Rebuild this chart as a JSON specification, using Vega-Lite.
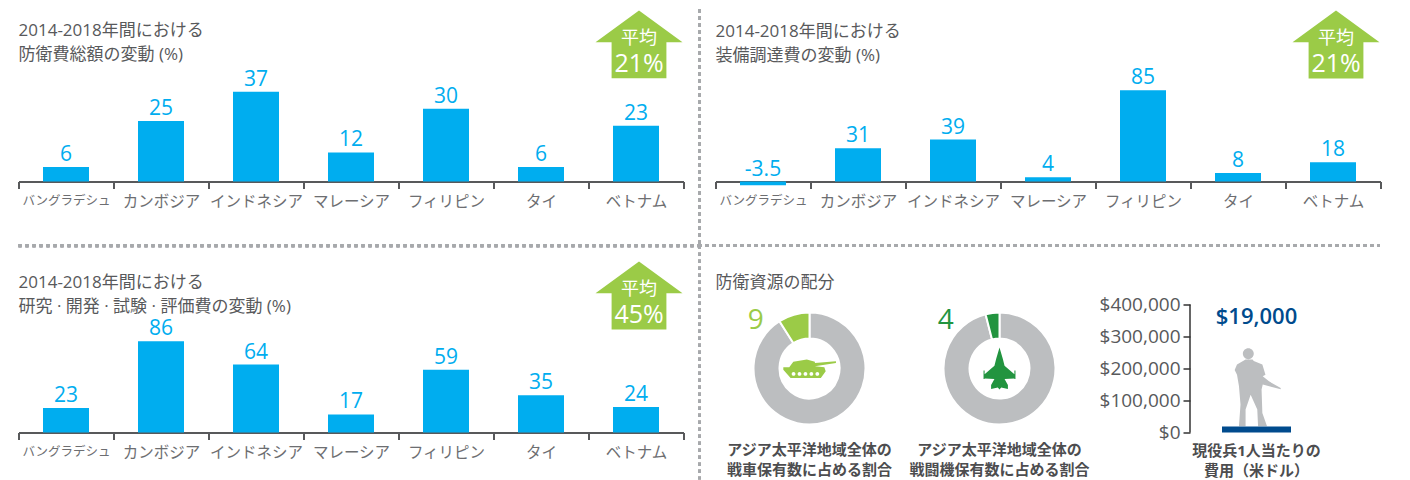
{
"$schema":"https://vega.github.io/schema/vega-lite/v6.json",
"background":"white",
"padding":{"left":16.5,"top":7.5,"right":0,"bottom":0},
"bounds":"flush",
"spacing":251,
"config":{
"font":"Open Sans, Noto Sans CJK JP",
"view":{"stroke":null},
"title":{"anchor":"start","align":"left","fontSize":17,"fontWeight":"normal","color":"#58595b","lineHeight":24,"frame":"group"},
"axisX":{"title":null,"grid":false,"labelAngle":0,"labelColor":"#6d6e71","labelFontSize":15.5,"labelPadding":6,"labelLimit":200,"domainColor":"#58595b","domainWidth":2,"tickColor":"#58595b","tickWidth":2,"tickSize":7,"bandPosition":0,"tickBand":"extent"}
},
"vconcat":[
{"bounds":"flush","spacing":32,"hconcat":[
{"width":665,"height":172,
"title":{"text":["2014-2018年間における","防衛費総額の変動 (%)"],"dy":59.5},
"data":{"values":[{"c":"バングラデシュ","v":6},{"c":"カンボジア","v":25},{"c":"インドネシア","v":37},{"c":"マレーシア","v":12},{"c":"フィリピン","v":30},{"c":"タイ","v":6},{"c":"ベトナム","v":23}]},
"layer":[
{"mark":{"type":"bar","width":46,"color":"#00adef"},"encoding":{"x":{"field":"c","type":"nominal","sort":null,"scale":{"paddingInner":0,"paddingOuter":0},"axis":{"labelFontSize":{"condition":{"test":"datum.label=='バングラデシュ'","value":12.5},"value":15.5}}},"y":{"field":"v","type":"quantitative","stack":null,"scale":{"domain":[0,71],"nice":false},"axis":null}}},
{"mark":{"type":"text","baseline":"bottom","dy":-2,"fontSize":21,"color":"#00adef"},"transform":[{"calculate":"max(datum.v,0)","as":"top"}],"encoding":{"x":{"field":"c","type":"nominal","sort":null},"y":{"field":"top","type":"quantitative"},"text":{"field":"v","type":"nominal"}}},
{"data":{"values":[{"avg":"21%","label":"平均"}]},"layer":[
{"mark":{"type":"point","filled":true,"opacity":1,"color":"#9bcb47","size":7569,"xOffset":3,"shape":"M0,-0.78L1,-0.05L0.63,-0.05L0.63,0.78L-0.63,0.78L-0.63,-0.05L-1,-0.05Z"},"encoding":{"x":{"datum":"ベトナム"},"y":{"datum":56.6}}},
{"mark":{"type":"text","fontSize":18,"color":"white","xOffset":3,"dy":-5.5},"encoding":{"x":{"datum":"ベトナム"},"y":{"datum":56.6},"text":{"field":"label"}}},
{"mark":{"type":"text","fontSize":25,"color":"white","xOffset":3,"dy":19.5},"encoding":{"x":{"datum":"ベトナム"},"y":{"datum":56.6},"text":{"field":"avg"}}}
]},
{"mark":{"type":"rule","stroke":"#a7a9ac","strokeWidth":3,"strokeDash":[3,4],"x2Offset":63},"encoding":{"x":{"datum":"バングラデシュ","bandPosition":0},"x2":{"datum":"ベトナム"},"y":{"datum":-26.5}}},
{"mark":{"type":"rule","stroke":"#a7a9ac","strokeWidth":3,"strokeDash":[3,4],"xOffset":16},"encoding":{"x":{"datum":"ベトナム","bandPosition":1},"y":{"datum":71},"y2":{"datum":-26.5}}}
]},
{"width":665,"height":172,
"title":{"text":["2014-2018年間における","装備調達費の変動 (%)"],"dy":59.5},
"data":{"values":[{"c":"バングラデシュ","v":-3.5},{"c":"カンボジア","v":31},{"c":"インドネシア","v":39},{"c":"マレーシア","v":4},{"c":"フィリピン","v":85},{"c":"タイ","v":8},{"c":"ベトナム","v":18}]},
"layer":[
{"mark":{"type":"bar","width":46,"color":"#00adef"},"encoding":{"x":{"field":"c","type":"nominal","sort":null,"scale":{"paddingInner":0,"paddingOuter":0},"axis":{"labelFontSize":{"condition":{"test":"datum.label=='バングラデシュ'","value":12.5},"value":15.5}}},"y":{"field":"v","type":"quantitative","stack":null,"scale":{"domain":[0,160],"nice":false},"axis":null}}},
{"mark":{"type":"text","baseline":"bottom","dy":-2,"fontSize":21,"color":"#00adef"},"transform":[{"calculate":"max(datum.v,0)","as":"top"}],"encoding":{"x":{"field":"c","type":"nominal","sort":null},"y":{"field":"top","type":"quantitative"},"text":{"field":"v","type":"nominal"}}},
{"data":{"values":[{"avg":"21%","label":"平均"}]},"layer":[
{"mark":{"type":"point","filled":true,"opacity":1,"color":"#9bcb47","size":7569,"xOffset":3,"shape":"M0,-0.78L1,-0.05L0.63,-0.05L0.63,0.78L-0.63,0.78L-0.63,-0.05L-1,-0.05Z"},"encoding":{"x":{"datum":"ベトナム"},"y":{"datum":127.4}}},
{"mark":{"type":"text","fontSize":18,"color":"white","xOffset":3,"dy":-5.5},"encoding":{"x":{"datum":"ベトナム"},"y":{"datum":127.4},"text":{"field":"label"}}},
{"mark":{"type":"text","fontSize":25,"color":"white","xOffset":3,"dy":19.5},"encoding":{"x":{"datum":"ベトナム"},"y":{"datum":127.4},"text":{"field":"avg"}}}
]},
{"mark":{"type":"rule","stroke":"#a7a9ac","strokeWidth":3,"strokeDash":[3,4],"xOffset":-17,"x2Offset":47},"encoding":{"y":{"datum":-59.5},"x":{"datum":"バングラデシュ","bandPosition":0},"x2":{"datum":"ベトナム"}}}
]}
]},
{"bounds":"flush","spacing":32,"hconcat":[
{"width":665,"height":172,
"title":{"text":["2014-2018年間における","研究 · 開発 · 試験 · 評価費の変動 (%)"],"dy":75.5},
"data":{"values":[{"c":"バングラデシュ","v":23},{"c":"カンボジア","v":86},{"c":"インドネシア","v":64},{"c":"マレーシア","v":17},{"c":"フィリピン","v":59},{"c":"タイ","v":35},{"c":"ベトナム","v":24}]},
"layer":[
{"mark":{"type":"bar","width":46,"color":"#00adef"},"encoding":{"x":{"field":"c","type":"nominal","sort":null,"scale":{"paddingInner":0,"paddingOuter":0},"axis":{"labelFontSize":{"condition":{"test":"datum.label=='バングラデシュ'","value":12.5},"value":15.5}}},"y":{"field":"v","type":"quantitative","stack":null,"scale":{"domain":[0,162],"nice":false},"axis":null}}},
{"mark":{"type":"text","baseline":"bottom","dy":-2,"fontSize":21,"color":"#00adef"},"encoding":{"x":{"field":"c","type":"nominal","sort":null},"y":{"field":"v","type":"quantitative"},"text":{"field":"v","type":"nominal"}}},
{"data":{"values":[{"avg":"45%","label":"平均"}]},"layer":[
{"mark":{"type":"point","filled":true,"opacity":1,"color":"#9bcb47","size":7569,"xOffset":3,"shape":"M0,-0.78L1,-0.05L0.63,-0.05L0.63,0.78L-0.63,0.78L-0.63,-0.05L-1,-0.05Z"},"encoding":{"x":{"datum":"ベトナム"},"y":{"datum":129}}},
{"mark":{"type":"text","fontSize":18,"color":"white","xOffset":3,"dy":-5.5},"encoding":{"x":{"datum":"ベトナム"},"y":{"datum":129},"text":{"field":"label"}}},
{"mark":{"type":"text","fontSize":25,"color":"white","xOffset":3,"dy":19.5},"encoding":{"x":{"datum":"ベトナム"},"y":{"datum":129},"text":{"field":"avg"}}}
]},
{"mark":{"type":"rule","stroke":"#a7a9ac","strokeWidth":3,"strokeDash":[3,4],"xOffset":16},"encoding":{"x":{"datum":"ベトナム","bandPosition":1},"y":{"datum":176},"y2":{"datum":-44}}}
]},
{"bounds":"flush","spacing":474.5,"hconcat":[
{"bounds":"flush","spacing":2,"hconcat":[
{"width":188,"height":216,
"title":{"text":"防衛資源の配分","dy":35.5},
"data":{"values":[{"part":"その他","share":91,"seq":1},{"part":"戦車","share":9,"seq":2}]},
"layer":[
{"mark":{"type":"arc","innerRadius":30,"outerRadius":56,"stroke":"white","strokeWidth":2},"encoding":{"theta":{"field":"share","type":"quantitative","stack":true},"order":{"field":"seq"},"color":{"field":"part","type":"nominal","legend":null,"scale":{"domain":["その他","戦車","戦闘機"],"range":["#bcbec0","#9bcb47","#22943f"]}}}},
{"transform":[{"filter":"datum.seq==2"}],"mark":{"type":"text","fontSize":28,"color":"#9bcb47","theta":5.44,"radius":72},"encoding":{"text":{"field":"share","type":"quantitative"}}},
{"transform":[{"filter":"datum.seq==2"}],"mark":{"type":"point","filled":true,"opacity":1,"color":"#9bcb47","size":2916,"shape":"M-0.75,-0.05L-0.6,-0.25L-0.1,-0.33L0.2,-0.25L0.2,-0.2L0.98,-0.27L0.98,-0.2L0.2,-0.08L0.55,-0.05L0.6,0.1L0.42,0.35L-0.7,0.35L-0.97,0.05L-0.97,-0.05ZM-0.66,0.2a0.07,0.07 0 1 0 0.14,0a0.07,0.07 0 1 0 -0.14,0ZM-0.44,0.2a0.07,0.07 0 1 0 0.14,0a0.07,0.07 0 1 0 -0.14,0ZM-0.22,0.2a0.07,0.07 0 1 0 0.14,0a0.07,0.07 0 1 0 -0.14,0ZM0,0.2a0.07,0.07 0 1 0 0.14,0a0.07,0.07 0 1 0 -0.14,0ZM0.22,0.2a0.07,0.07 0 1 0 0.14,0a0.07,0.07 0 1 0 -0.14,0Z"},"encoding":{}},
{"data":{"values":[{"note":["アジア太平洋地域全体の","戦車保有数に占める割合"]}]},"mark":{"type":"text","fontSize":15,"fontWeight":"bold","color":"#4d4d4f","baseline":"middle","dy":81.5,"lineHeight":20},"encoding":{"text":{"field":"note"}}}
]},
{"width":188,"height":216,
"data":{"values":[{"part":"その他","share":96,"seq":1},{"part":"戦闘機","share":4,"seq":2}]},
"layer":[
{"mark":{"type":"arc","innerRadius":30,"outerRadius":56,"stroke":"white","strokeWidth":2},"encoding":{"theta":{"field":"share","type":"quantitative","stack":true},"order":{"field":"seq"},"color":{"field":"part","type":"nominal","legend":null,"scale":{"domain":["その他","戦車","戦闘機"],"range":["#bcbec0","#9bcb47","#22943f"]}}}},
{"transform":[{"filter":"datum.seq==2"}],"mark":{"type":"text","fontSize":28,"color":"#22943f","theta":5.44,"radius":72},"encoding":{"text":{"field":"share","type":"quantitative"}}},
{"transform":[{"filter":"datum.seq==2"}],"mark":{"type":"point","filled":true,"opacity":1,"color":"#22943f","size":1764,"shape":"M0,-1L0.16,-0.45L0.24,-0.13L0.71,0.27L0.71,0.1L0.76,0.1L0.76,0.5L0.71,0.5L0.71,0.48L0.24,0.5L0.4,0.79L0.4,0.98L0.08,0.9L0,1L-0.08,0.9L-0.4,0.98L-0.4,0.79L-0.24,0.5L-0.71,0.48L-0.71,0.5L-0.76,0.5L-0.76,0.1L-0.71,0.1L-0.71,0.27L-0.24,-0.13L-0.16,-0.45Z"},"encoding":{}},
{"data":{"values":[{"note":["アジア太平洋地域全体の","戦闘機保有数に占める割合"]}]},"mark":{"type":"text","fontSize":15,"fontWeight":"bold","color":"#4d4d4f","baseline":"middle","dy":81.5,"lineHeight":20},"encoding":{"text":{"field":"note"}}}
]}
]},
{"width":133,"height":172,
"title":{"text":["現役兵1人当たりの","費用（米ドル）"],"orient":"bottom","anchor":"middle","align":"center","fontSize":15,"fontWeight":"bold","color":"#4d4d4f","lineHeight":20,"offset":1.5},
"data":{"values":[{"item":"現役兵","cost":19000}]},
"layer":[
{"mark":{"type":"point","filled":true,"opacity":1,"color":"#bcbec0","size":6084,"shape":"M-0.28,-0.71L-0.5,-0.58L-0.56,-0.44L-0.5,-0.32L-0.45,-0.03L-0.41,0.44L-0.45,1L-0.28,1L-0.28,0.57L-0.15,0.19L0.02,0.57L0.04,1L0.27,1L0.15,0.66L0.13,0.06L0.16,-0.07L0.62,0.05L0.62,0.02L0.32,-0.15L0.16,-0.28L0.23,-0.32L0.15,-0.58L-0.07,-0.67L-0.1,-0.71ZM-0.35,-0.86a0.14,0.14 0 1 1 0.28,0a0.14,0.14 0 1 1 -0.28,0Z"},"encoding":{"x":{"field":"item","type":"nominal","scale":{"paddingInner":0,"paddingOuter":0},"axis":null},"y":{"datum":141500,"type":"quantitative","scale":{"domain":[0,537500],"nice":false},"axis":{"title":null,"values":[0,100000,200000,300000,400000],"format":"$,.0f","grid":false,"domain":false,"labelFontSize":19,"labelColor":"#58595b","tickColor":"#333333","tickWidth":1.5,"tickSize":7,"labelPadding":3}}}},
{"mark":{"type":"bar","width":69,"color":"#004b8d"},"encoding":{"x":{"field":"item","type":"nominal"},"y":{"field":"cost","type":"quantitative"}}},
{"mark":{"type":"text","fontSize":22,"fontWeight":600,"color":"#004b8d","baseline":"middle"},"encoding":{"x":{"field":"item","type":"nominal"},"y":{"datum":361000,"type":"quantitative"},"text":{"field":"cost","type":"quantitative","format":"$,.0f"}}},
{"mark":{"type":"rule","stroke":"#333333","strokeWidth":1.5},"encoding":{"x":{"field":"item","type":"nominal","bandPosition":0},"y":{"datum":0,"type":"quantitative"},"y2":{"datum":400000}}}
]}
]}
]}
]}
